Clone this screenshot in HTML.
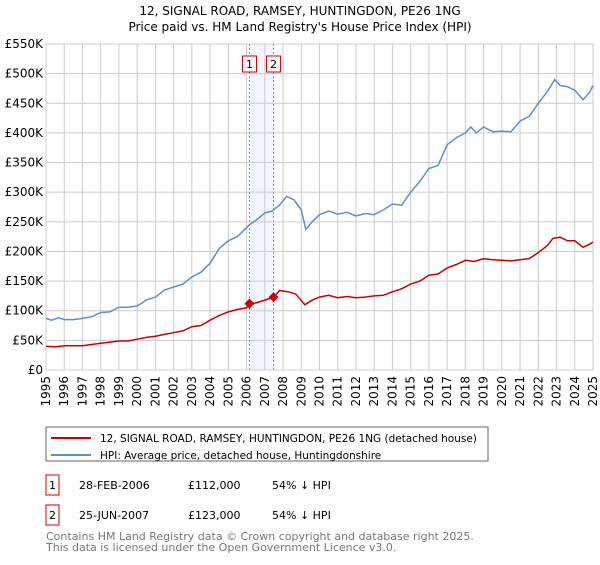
<!DOCTYPE html>
<html><head><meta charset="utf-8"><style>
body{margin:0;background:#fff;font-family:"Liberation Sans","DejaVu Sans",sans-serif;}
svg text{font-family:"DejaVu Sans","Liberation Sans",sans-serif;}
</style></head><body>
<svg id="c" width="600" height="560" viewBox="0 0 600 560">
<text x="300" y="15" font-size="12" text-anchor="middle">12, SIGNAL ROAD, RAMSEY, HUNTINGDON, PE26 1NG</text>
<text x="300" y="31" font-size="12" text-anchor="middle">Price paid vs. HM Land Registry's House Price Index (HPI)</text>
<g id="plot"></g>
<g>
<rect x="46" y="427" width="442" height="34" fill="#fff" stroke="#666"/>
<line x1="51" y1="438" x2="91" y2="438" stroke="#cc0000" stroke-width="2"/>
<text x="100" y="442" font-size="10.5">12, SIGNAL ROAD, RAMSEY, HUNTINGDON, PE26 1NG (detached house)</text>
<line x1="51" y1="455" x2="91" y2="455" stroke="#5b8fd0" stroke-width="2"/>
<text x="100" y="459" font-size="10.5">HPI: Average price, detached house, Huntingdonshire</text>
</g>
<g font-size="11">
<rect x="46" y="475" width="13" height="20" fill="#fff" stroke="#cc0000"/><text x="49" y="489">1</text>
<text x="79" y="489">28-FEB-2006</text><text x="188" y="489">£112,000</text><text x="272" y="489">54% ↓ HPI</text>
<rect x="46" y="505" width="13" height="20" fill="#fff" stroke="#cc0000"/><text x="49" y="519">2</text>
<text x="79" y="519">25-JUN-2007</text><text x="188" y="519">£123,000</text><text x="272" y="519">54% ↓ HPI</text>
</g>
<text x="46" y="540" font-size="11" fill="#777">Contains HM Land Registry data © Crown copyright and database right 2025.</text>
<text x="46" y="551" font-size="11" fill="#777">This data is licensed under the Open Government Licence v3.0.</text>
</svg>
<script>
const yTicks=[0,50,100,150,200,250,300,350,400,450,500,550];
const yLabels=["£0","£50K","£100K","£150K","£200K","£250K","£300K","£350K","£400K","£450K","£500K","£550K"];
const years=[1995,1996,1997,1998,1999,2000,2001,2002,2003,2004,2005,2006,2007,2008,2009,2010,2011,2012,2013,2014,2015,2016,2017,2018,2019,2020,2021,2022,2023,2024,2025];
const hpiT=[1995,1995.3,1995.7,1996,1996.5,1997,1997.5,1998,1998.5,1999,1999.5,2000,2000.5,2001,2001.5,2002,2002.5,2003,2003.5,2004,2004.5,2005,2005.5,2006,2006.15,2006.5,2007,2007.4,2007.8,2008.2,2008.6,2009.0,2009.25,2009.6,2010,2010.5,2011,2011.5,2012,2012.5,2013,2013.5,2014,2014.5,2015,2015.5,2016,2016.5,2017,2017.5,2018,2018.3,2018.6,2019,2019.5,2020,2020.5,2021,2021.5,2022,2022.5,2022.9,2023.2,2023.6,2024,2024.45,2024.8,2025];
const hpiV=[87,84,88,85,85,87,90,97,98,106,106,108,118,123,135,140,145,157,165,180,205,218,225,240,245,252,265,268,278,293,287,270,237,250,262,268,263,266,260,264,262,270,280,278,300,318,340,345,380,392,400,410,400,410,402,403,402,420,428,450,470,490,480,478,472,456,468,480];
const ppT=[1995,1995.5,1996,1997,1997.5,1998,1999,1999.5,2000,2000.5,2001,2001.5,2002,2002.5,2003,2003.5,2004,2004.5,2005,2005.5,2006,2006.16,2006.5,2007,2007.48,2007.8,2008.3,2008.7,2009.2,2009.6,2010,2010.5,2011,2011.5,2012,2012.5,2013,2013.5,2014,2014.5,2015,2015.5,2016,2016.5,2017,2017.5,2018,2018.5,2019,2019.5,2020,2020.5,2021,2021.5,2022,2022.5,2022.8,2023.2,2023.6,2024,2024.45,2024.8,2025];
const ppV=[40,39,41,41,43,45,49,49,52,55,57,60,63,66,73,75,84,92,98,102,105,112,113,118,123,134,132,128,110,118,123,126,122,124,122,123,125,126,132,137,145,150,160,162,172,178,185,183,188,186,185,184,186,188,198,210,222,224,218,218,207,212,216];
const sales=[{n:"1",t:2006.16,v:112},{n:"2",t:2007.48,v:123}];
const X0=46,X1=593,Y0=370,Y1=44;
const x=t=>X0+(t-1995)/(30)*(X1-X0);
const y=v=>Y0-v/550*(Y0-Y1);
const NS="http://www.w3.org/2000/svg";
const g=document.getElementById('plot');
function mk(tag,at,par){const e=document.createElementNS(NS,tag);for(const k in at)e.setAttribute(k,at[k]);(par||g).appendChild(e);return e;}
let r=mk('rect',{x:x(sales[0].t),y:Y1,width:x(sales[1].t)-x(sales[0].t),height:Y0-Y1,fill:'#f1f5fd'});


yTicks.forEach((v,i)=>{let l=mk('line',{x1:X0,x2:X1,y1:y(v),y2:y(v),stroke:'#ccc'});


let t=mk('text',{x:X0-3,y:y(v)+4,'font-size':12,'text-anchor':'end'});t.textContent=yLabels[i];

});
years.forEach(yr=>{let l=mk('line',{x1:x(yr),x2:x(yr),y1:Y1,y2:Y0,stroke:'#ccc'});


let t=mk('text',{transform:`translate(${x(yr)+4},${Y0+6}) rotate(-90)`,'font-size':12,'text-anchor':'end'});t.textContent=yr;

});
sales.forEach(s=>{let l=mk('line',{x1:x(s.t),x2:x(s.t),y1:Y1,y2:Y0,stroke:'#f07070','stroke-dasharray':'2,2'});


let b=mk('rect',{x:x(s.t)-7,y:56,width:14,height:16,fill:'#fff',stroke:'#cc0000'});


let t=mk('text',{x:x(s.t),y:68,'font-size':11,'text-anchor':'middle'});t.textContent=s.n;

});
const pts=(T,V)=>T.map((t,i)=>x(t).toFixed(1)+','+y(V[i]).toFixed(1)).join(' ');
let h=mk('polyline',{points:pts(hpiT,hpiV),fill:'none',stroke:'#5b8fd0','stroke-width':1.5});


let p=mk('polyline',{points:pts(ppT,ppV),fill:'none',stroke:'#cc0000','stroke-width':1.5});


sales.forEach(s=>{let d=mk('path',{d:`M${x(s.t)},${y(s.v)-5}l5,5l-5,5l-5,-5z`,fill:'#cc0000'});

});
</script>
</body></html>
